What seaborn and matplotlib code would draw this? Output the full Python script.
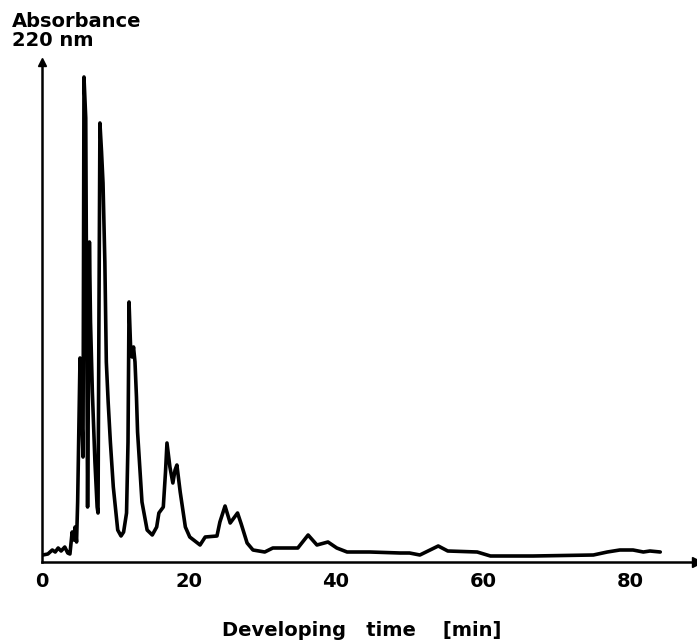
import numpy as np
import pandas as pd
import matplotlib
matplotlib.use("Agg")
import matplotlib.pyplot as plt
import seaborn as sns

# chromatogram trace (time in min, absorbance in arbitrary units)
time_min = [0.1, 0.8, 1.4, 1.8, 2.2, 2.6, 3.1, 3.5, 3.8, 4.1, 4.3, 4.5, 4.7, 4.85,
            5.17, 5.4, 5.58, 5.71, 5.95, 6.2, 6.45, 6.6, 6.85, 7.2, 7.5, 7.62,
            7.75, 7.88, 8.1, 8.3, 8.55, 8.75, 9.0, 9.3, 9.7, 10.3, 10.75, 11.1,
            11.5, 11.7, 11.84, 12.05, 12.25, 12.45, 12.65, 12.85, 13.0, 13.3,
            13.6, 14.3, 15.0, 15.6, 15.9, 16.5, 16.8, 17.0, 17.4, 17.8, 18.1,
            18.35, 18.8, 19.5, 20.1, 21.5, 22.2, 23.8, 24.2, 24.9, 25.6, 26.6,
            27.1, 27.9, 28.7, 30.3, 31.4, 34.8, 36.2, 37.4, 38.9, 40.1, 41.5,
            44.6, 48.7, 50.0, 51.4, 53.9, 55.2, 59.2, 61.0, 66.8, 75.0, 76.9,
            78.6, 80.4, 81.8, 82.7, 84.1]
absorbance = [7, 8, 12, 10, 14, 11, 15, 9, 8, 30, 22, 35, 20, 60,
              204, 150, 105, 485, 444, 55, 320, 240, 170, 100, 55, 49,
              250, 439, 410, 379, 300, 200, 160, 120, 75, 32, 26, 30,
              49, 120, 260, 215, 205, 215, 200, 165, 130, 95,
              60, 32, 27, 35, 49, 55, 90, 119, 95, 79, 92,
              97, 70, 35, 25, 17, 25, 26, 40, 56, 39, 49,
              38, 19, 12, 10, 14, 14, 27, 17, 20, 14, 10,
              10, 9, 9, 7, 16, 11, 10, 6, 6, 7, 10,
              12, 12, 10, 11, 10]

df = pd.DataFrame({"time": time_min, "abs": absorbance})

sns.set_style("white")
plt.rcParams["font.family"] = ["DejaVu Sans"]
plt.rcParams["text.color"] = "black"
plt.rcParams["xtick.color"] = "black"

fig = plt.figure(figsize=(6.97, 6.42), dpi=100)
ax = fig.add_axes([42 / 697, 80 / 642, 655 / 697, 500 / 642])

sns.lineplot(data=df, x="time", y="abs", color="black", lw=2.6, ax=ax,
             estimator=None, sort=False)

ax.set_xlim(0, 89.1)
ax.set_ylim(0, 500)
sns.despine(ax=ax, top=True, right=True)
for side in ["left", "bottom"]:
    ax.spines[side].set_linewidth(1.8)
    ax.spines[side].set_color("black")

# arrow heads on the axes
ax.plot(1, 0, ">k", ms=7, transform=ax.transAxes, clip_on=False)
ax.plot(0, 1, "^k", ms=6, transform=ax.transAxes, clip_on=False)

ax.set_xticks([0, 20, 40, 60, 80])
ax.set_xticks([10, 30, 50, 70], minor=True)
ax.set_xticklabels(["0", "20", "40", "60", "80"], fontsize=14, fontweight="bold",
                   color="black")
ax.tick_params(axis="x", which="both", direction="in", length=9, width=1.8,
               color="black", pad=7)
ax.set_yticks([])
ax.set_xlabel("")
ax.set_ylabel("")

fig.text(12 / 697, 1 - 12 / 642, "Absorbance\n220 nm", ha="left", va="top",
         fontsize=14, fontweight="bold", linespacing=1.0, color="black")
fig.text(362 / 697, 1 - 630 / 642, "Developing   time    [min]", ha="center",
         va="center", fontsize=14, fontweight="bold", color="black")

fig.savefig("out.png", dpi=100)
